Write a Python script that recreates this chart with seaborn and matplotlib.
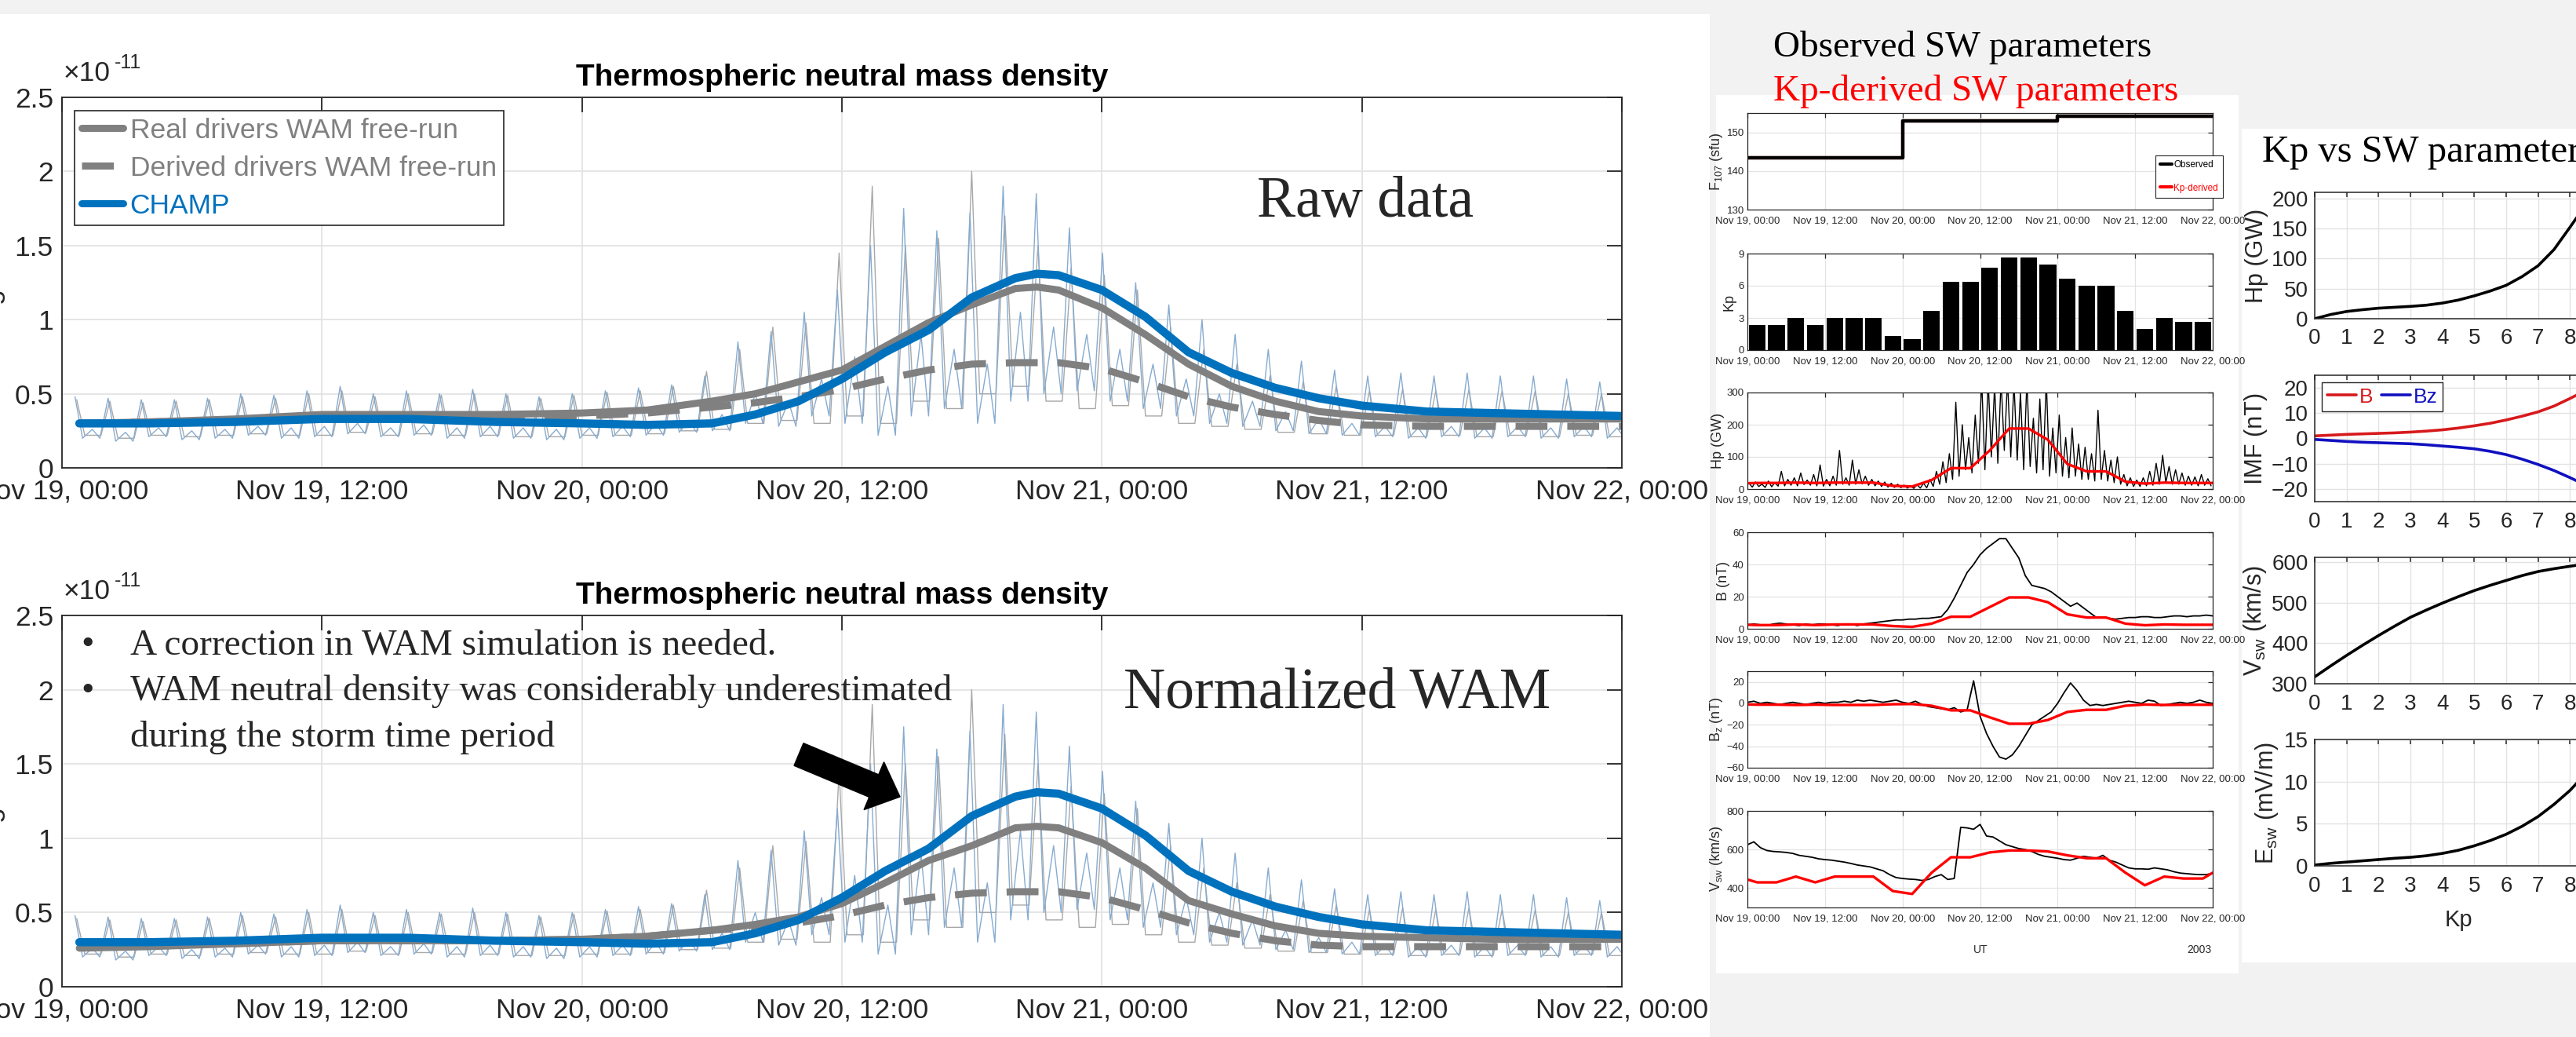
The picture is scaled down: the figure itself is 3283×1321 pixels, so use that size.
import numpy as np
import matplotlib
matplotlib.use("Agg")
import matplotlib.pyplot as plt
import seaborn as sns
from matplotlib.lines import Line2D
from matplotlib.patches import Rectangle, FancyArrow
from matplotlib.transforms import IdentityTransform
from matplotlib import font_manager

# ------------------------------------------------------------------ data
# time axis labels (hours from Nov 19 00:00 UT, 2003)
time_ticks = [0, 12, 24, 36, 48, 60, 72]
time_ticklabels = ["Nov 19, 00:00", "Nov 19, 12:00", "Nov 20, 00:00", "Nov 20, 12:00",
                   "Nov 21, 00:00", "Nov 21, 12:00", "Nov 22, 00:00"]

# smoothed density curves (x1e-11 kg/m^3)
smooth_t = [0.8, 4, 8, 12, 16, 20, 24, 27, 30, 32, 34, 36, 38, 40, 42, 44, 45, 46,
            48, 50, 52, 54, 56, 58, 60, 63, 66, 69, 72]
champ_smooth = [0.30, 0.30, 0.31, 0.33, 0.33, 0.31, 0.30, 0.29, 0.30, 0.36, 0.45, 0.60,
                0.78, 0.93, 1.15, 1.28, 1.31, 1.30, 1.20, 1.02, 0.78, 0.64, 0.54, 0.47,
                0.42, 0.38, 0.37, 0.36, 0.35]
wam_real_raw = [0.30, 0.31, 0.33, 0.36, 0.36, 0.36, 0.37, 0.39, 0.45, 0.50, 0.58, 0.66,
                0.82, 0.98, 1.10, 1.21, 1.22, 1.20, 1.08, 0.90, 0.70, 0.55, 0.45, 0.38,
                0.35, 0.33, 0.33, 0.33, 0.33]
wam_derived_raw = [0.30, 0.31, 0.32, 0.34, 0.35, 0.34, 0.35, 0.37, 0.41, 0.44, 0.48, 0.53,
                   0.60, 0.66, 0.70, 0.71, 0.71, 0.71, 0.67, 0.58, 0.48, 0.41, 0.36, 0.32,
                   0.29, 0.28, 0.28, 0.28, 0.28]
wam_real_norm = [0.26, 0.27, 0.29, 0.31, 0.31, 0.31, 0.32, 0.34, 0.38, 0.42, 0.47, 0.56,
                 0.70, 0.85, 0.95, 1.07, 1.08, 1.07, 0.97, 0.80, 0.58, 0.49, 0.41, 0.36,
                 0.34, 0.33, 0.32, 0.32, 0.32]
wam_derived_norm = [0.27, 0.28, 0.29, 0.31, 0.31, 0.31, 0.32, 0.34, 0.38, 0.40, 0.43, 0.48,
                    0.55, 0.60, 0.63, 0.64, 0.64, 0.64, 0.60, 0.52, 0.43, 0.36, 0.31, 0.28,
                    0.27, 0.27, 0.27, 0.27, 0.27]

# per-orbit maxima / minima of the unsmoothed series (x1e-11 kg/m^3)
champ_orbit_max = [0.48, 0.47, 0.46, 0.46, 0.47, 0.50, 0.49, 0.52, 0.55, 0.50, 0.52, 0.50,
                   0.53, 0.50, 0.48, 0.50, 0.52, 0.54, 0.56, 0.62, 0.85, 0.92, 1.05, 1.20,
                   1.50, 1.75, 1.60, 1.72, 1.90, 1.85, 1.62, 1.45, 1.25, 1.10, 1.00, 0.90,
                   0.80, 0.72, 0.66, 0.62, 0.64, 0.62, 0.64, 0.62, 0.62, 0.60, 0.58]
champ_orbit_min = [0.20, 0.18, 0.21, 0.19, 0.20, 0.22, 0.20, 0.21, 0.23, 0.21, 0.22, 0.20,
                   0.21, 0.20, 0.19, 0.20, 0.21, 0.22, 0.24, 0.25, 0.30, 0.28, 0.35, 0.30,
                   0.22, 0.35, 0.40, 0.30, 0.45, 0.50, 0.52, 0.45, 0.40, 0.35, 0.30, 0.28,
                   0.25, 0.23, 0.22, 0.21, 0.20, 0.21, 0.20, 0.21, 0.20, 0.21, 0.20]
champ_orbit_mid = [0.26, 0.24, 0.27, 0.25, 0.26, 0.28, 0.27, 0.28, 0.30, 0.27, 0.29, 0.27,
                   0.28, 0.27, 0.26, 0.27, 0.28, 0.30, 0.32, 0.36, 0.50, 0.45, 0.60, 0.75,
                   0.55, 0.90, 0.80, 0.70, 1.05, 0.95, 0.90, 0.80, 0.70, 0.60, 0.50, 0.45,
                   0.38, 0.33, 0.30, 0.28, 0.27, 0.28, 0.27, 0.28, 0.27, 0.28, 0.27]
wam_orbit_max = [0.46, 0.45, 0.44, 0.45, 0.46, 0.48, 0.47, 0.50, 0.52, 0.48, 0.50, 0.49,
                 0.50, 0.49, 0.47, 0.49, 0.51, 0.52, 0.55, 0.65, 0.80, 0.95, 0.98, 1.45,
                 1.90, 1.50, 1.55, 2.00, 1.70, 1.50, 1.35, 1.30, 1.20, 0.95, 0.80, 0.70,
                 0.62, 0.58, 0.55, 0.52, 0.53, 0.52, 0.53, 0.52, 0.52, 0.50, 0.50]
wam_orbit_min = [0.22, 0.20, 0.22, 0.21, 0.22, 0.23, 0.22, 0.22, 0.24, 0.22, 0.23, 0.22,
                 0.22, 0.21, 0.21, 0.22, 0.22, 0.23, 0.25, 0.26, 0.30, 0.32, 0.30, 0.35,
                 0.30, 0.45, 0.40, 0.50, 0.55, 0.45, 0.40, 0.42, 0.35, 0.30, 0.28, 0.26,
                 0.24, 0.23, 0.22, 0.22, 0.21, 0.22, 0.21, 0.22, 0.21, 0.22, 0.21]

# solar wind / geomagnetic drivers
f107_t = [0, 24, 48, 72]
f107_obs = [143.4, 152.9, 154.1, 154.1]
kp_t = [1.5, 4.5, 7.5, 10.5, 13.5, 16.5, 19.5, 22.5, 25.5, 28.5, 31.5, 34.5,
        37.5, 40.5, 43.5, 46.5, 49.5, 52.5, 55.5, 58.5, 61.5, 64.5, 67.5, 70.5]
kp_vals = [2.33, 2.33, 3, 2.33, 3, 3, 3, 1.33, 1, 3.67, 6.33, 6.33,
           7.67, 8.67, 8.67, 8, 6.67, 6, 6, 3.67, 2, 3, 2.67, 2.67]

hour_t = list(range(73))
hp_obs_hi = [18, 22, 15, 25, 20, 55, 30, 35, 50, 28, 45, 75,
             30, 40, 120, 35, 90, 60, 40, 30, 25, 22, 18, 15,
             12, 10, 14, 18, 30, 55, 85, 110, 270, 200, 160, 230,
             340, 340, 320, 340, 340, 330, 300, 340, 220, 280, 340, 190,
             230, 160, 190, 140, 130, 110, 245, 120, 90, 100, 45, 35,
             28, 35, 55, 80, 105, 70, 60, 50, 40, 38, 45, 32]
hp_obs_lo = [6, 8, 5, 7, 9, 10, 12, 10, 14, 12, 10, 9,
             10, 12, 15, 12, 15, 16, 12, 10, 8, 6, 5, 4,
             3, 2, 3, 4, 8, 15, 20, 30, 40, 60, 50, 80,
             60, 100, 80, 120, 100, 90, 60, 70, 50, 60, 40, 50,
             40, 35, 40, 30, 30, 25, 30, 25, 20, 15, 10, 8,
             8, 10, 12, 15, 20, 15, 15, 12, 12, 10, 12, 10]
b_obs = [2.5, 3, 2.5, 2, 3, 3.5, 3, 2.5, 2, 3, 2.5, 3, 3, 2.5, 2, 3, 3, 2, 3, 3.5, 4, 4.5, 5, 5.5,
         5.5, 6, 6, 6.5, 6.5, 7, 7.5, 12, 19, 27, 35, 40, 46, 50, 53, 56, 56, 50, 44, 33, 27, 26, 25, 23,
         20, 17, 14, 16, 13, 10, 7, 7, 6.5, 6, 6.5, 7, 7, 7.5, 7.5, 7, 7, 7.5, 8, 8, 7.5, 8, 8, 8.5, 8]
bz_obs = [1, 2, 0, 1, 0, -1, 0, 1, 0, -1, 0, 1, 0, 1, 1, 2, 1, 3, 2, 3, 2, 1, 2, 3,
          1, 0, 2, -1, -3, -4, -5, -6, -4, -8, -6, 21, -12, -28, -40, -50, -52, -48, -40, -30, -20, -16, -12, -8,
          0, 10, 19, 12, 3, -2, -1, -2, -1, 0, 1, 2, 1, 0, 3, 2, -2, -1, 0, 1, 0, 1, 3, 1, 0]
vsw_obs = [625, 640, 610, 595, 590, 588, 585, 580, 570, 565, 560, 552, 548, 545, 540, 535, 528, 520,
           515, 510, 500, 490, 470, 455,
           450, 447, 445, 440, 445, 460, 470, 445, 450, 715, 712, 705, 730, 670, 665, 645, 625, 615,
           605, 600, 590, 575, 565, 560,
           555, 548, 545, 555, 565, 560, 555, 570, 545, 535, 520, 505, 500, 500, 498, 505, 500, 495,
           485, 478, 475, 472, 470, 470, 478]

kpd_t = [0] + kp_t + [72]
hp_kpd = [18, 19, 19, 20, 19, 20, 20, 20, 10, 8, 28, 65, 65, 120, 188, 188, 153, 78, 55, 55, 23,
          17, 20, 19, 19, 19]
b_kpd = [2.5, 2.3, 2.3, 2.7, 2.3, 2.7, 2.7, 2.7, 1.7, 1.2, 3.2, 7.5, 7.5, 13.5, 19.5, 19.5, 16.5,
         9, 7, 7, 3.2, 2.2, 2.7, 2.5, 2.5, 2.5]
bz_kpd = [-1.0, -1.2, -1.2, -1.5, -1.2, -1.5, -1.5, -1.5, -0.8, -0.6, -2.2, -6.5, -6.5, -13, -19,
          -19, -15.5, -8, -6, -6, -2.2, -1.1, -1.5, -1.3, -1.3, -1.3]
vsw_kpd = [445, 430, 430, 460, 430, 460, 460, 460, 385, 370, 480, 560, 560, 585, 595, 595, 590,
           570, 555, 555, 480, 415, 460, 450, 450, 480]

# Kp -> solar wind parameter relations
kp_grid = [0, 0.5, 1, 1.5, 2, 2.5, 3, 3.5, 4, 4.5, 5, 5.5, 6, 6.5, 7, 7.5, 8, 8.5, 9]
hp_curve = [0, 7, 12, 15, 17.5, 19, 20.5, 22.5, 26, 31, 38, 46, 55.5, 70, 88, 115, 152, 190, 230]
b_curve = [1.0, 1.3, 1.6, 1.8, 2.0, 2.2, 2.5, 2.9, 3.4, 4.1, 5.0, 6.0, 7.3, 8.8, 10.5, 12.8, 15.8,
           19.0, 22.5]
bz_curve = [-0.4, -0.8, -1.2, -1.5, -1.7, -1.9, -2.1, -2.5, -3.0, -3.5, -4.1, -5.1, -6.4, -8.2,
            -10.3, -12.7, -15.5, -18.5, -22]
vsw_curve = [317, 344, 370, 395, 419, 442, 464, 482, 499, 515, 530, 543, 555, 567, 577, 584, 590,
             596, 600]
esw_curve = [0.1, 0.3, 0.45, 0.6, 0.75, 0.9, 1.02, 1.2, 1.48, 1.85, 2.38, 3.0, 3.75, 4.7, 5.85,
             7.3, 8.95, 11.0, 13.3]

# ------------------------------------------------------------------ style
W, H = 3283, 1321
sns.set_theme(style="white")
avail = {f.name for f in font_manager.fontManager.ttflist}
SANS = "Liberation Sans" if "Liberation Sans" in avail else "DejaVu Sans"
NARROW = "Liberation Sans Narrow" if "Liberation Sans Narrow" in avail else SANS
SERIF = "Liberation Serif" if "Liberation Serif" in avail else "DejaVu Serif"
plt.rcParams["font.family"] = [SANS, "DejaVu Sans"]
plt.rcParams["mathtext.fontset"] = "custom"
plt.rcParams["mathtext.rm"] = SANS
plt.rcParams["mathtext.it"] = SANS
plt.rcParams["mathtext.bf"] = SANS + ":bold"

TXT = "#262626"
BLUE = "#0072BD"
GRAY = "#808080"


def rect(l, t, r, b):
    return [l / W, 1 - b / H, (r - l) / W, (b - t) / H]


def style(ax, fs, ticklen, spw, pad, family=None, gridlw=1.0):
    ax.set_facecolor("white")
    ax.tick_params(direction="in", top=True, right=True, length=ticklen, width=spw,
                   labelsize=fs, colors=TXT, pad=pad)
    for sp in ax.spines.values():
        sp.set_color(TXT)
        sp.set_linewidth(spw)
        sp.set_visible(True)
    ax.grid(True, color="#e3e3e3", linewidth=gridlw)
    ax.set_axisbelow(True)
    if family:
        for lb in ax.get_xticklabels() + ax.get_yticklabels():
            lb.set_fontfamily(family)


fig = plt.figure(figsize=(W / 100, H / 100), dpi=100, facecolor="#f2f2f2")
for (l, t, r, b) in [(0, 18, 2179, H), (2187, 121, 2853, 1240), (2857, 164, W, 1226)]:
    fig.add_artist(Rectangle((l / W, 1 - b / H), (r - l) / W, (b - t) / H,
                             transform=fig.transFigure, facecolor="white",
                             edgecolor="none", zorder=-5))

# ------------------------------------------------------------------ left panels
# one sample set per satellite orbit (~1.53 h): peak, trough, mid-trough
orbit_t = 0.6 + 1.53 * np.arange(len(champ_orbit_max))
champ_t = np.column_stack([orbit_t, orbit_t + 0.35, orbit_t + 0.8, orbit_t + 1.15]).ravel()
champ_raw = np.column_stack([champ_orbit_max, champ_orbit_min, champ_orbit_mid,
                             champ_orbit_min]).ravel()
wam_t = np.column_stack([orbit_t + 0.08, orbit_t + 0.45, orbit_t + 1.2]).ravel()
wam_raw = np.column_stack([wam_orbit_max, wam_orbit_min, wam_orbit_min]).ravel()

left_specs = [
    (124, 596, wam_real_raw, wam_derived_raw),
    (784, 1257, wam_real_norm, wam_derived_norm),
]
left_axes = []
for top, bot, real, derived in left_specs:
    ax = fig.add_axes(rect(79, top, 2067, bot))
    sns.lineplot(x=wam_t, y=wam_raw, ax=ax, color="#a8a8a8", lw=1.0)
    sns.lineplot(x=champ_t, y=champ_raw, ax=ax, color="#86abd0", lw=1.0)
    sns.lineplot(x=smooth_t, y=derived, ax=ax, color=GRAY, lw=6.5)
    ax.lines[-1].set_dashes([4.5, 2.8])
    sns.lineplot(x=smooth_t, y=real, ax=ax, color=GRAY, lw=6.5)
    sns.lineplot(x=smooth_t, y=champ_smooth, ax=ax, color=BLUE, lw=7.5)
    ax.set_xlim(0, 72)
    ax.set_ylim(0, 2.5)
    ax.set_xticks(time_ticks)
    ax.set_xticklabels(time_ticklabels)
    ax.set_yticks([0, 0.5, 1, 1.5, 2, 2.5])
    ax.set_yticklabels(["0", "0.5", "1", "1.5", "2", "2.5"])
    style(ax, 25.5, 14, 1.3, 8, gridlw=1.3)
    ax.tick_params(axis="x", pad=10)
    ax.set_title("Thermospheric neutral mass density", fontsize=28, fontweight="bold",
                 color="black", pad=11)
    ax.set_ylabel("kg/m$^3$", fontsize=25.5, color=TXT)
    ax.yaxis.set_label_coords(-0.034, 0.5)
    ax.set_xlabel("")
    # exponent
    fig.text(81 / W, 1 - (top - 21) / H, "\u00d710", fontsize=25.5, color=TXT, va="baseline")
    fig.text(146 / W, 1 - (top - 37) / H, "-11", fontsize=18, color=TXT, va="baseline")
    left_axes.append(ax)

axL1, axL2 = left_axes
handles = [Line2D([], [], color=GRAY, lw=6.5),
           Line2D([], [], color=GRAY, lw=6.5, dashes=[4.5, 2.8]),
           Line2D([], [], color=BLUE, lw=6.5)]
leg = axL1.legend(handles, ["Real drivers WAM free-run", "Derived drivers WAM free-run", "CHAMP"],
                  loc="upper left", bbox_to_anchor=(0.008, 0.964), fontsize=25.5,
                  handlelength=1.5, handletextpad=0.25, labelspacing=0.42, borderpad=0.25,
                  borderaxespad=0, frameon=True, fancybox=False, framealpha=1)
leg.get_frame().set_edgecolor(TXT)
leg.get_frame().set_linewidth(1.2)
for txt, c in zip(leg.get_texts(), [GRAY, GRAY, BLUE]):
    txt.set_color(c)

fig.text(1602 / W, 1 - 276 / H, "Raw data", fontsize=53, family=SERIF, va="baseline")
fig.text(1432 / W, 1 - 902 / H, "Normalized WAM", fontsize=53, family=SERIF, va="baseline")
bullets = [("\u2022", "A correction in WAM simulation is needed.", 833),
           ("\u2022", "WAM neutral density was considerably underestimated", 892),
           ("", "during the storm time period", 951)]
for bch, line, yb in bullets:
    if bch:
        fig.text(112 / W, 1 - yb / H, bch, fontsize=34, family=SERIF, va="baseline", ha="center")
    fig.text(166 / W, 1 - yb / H, line, fontsize=34, family=SERIF, va="baseline")
fig.add_artist(FancyArrow(1018, H - 961, 129, -54, width=31, head_width=66, head_length=36,
                          length_includes_head=True, color="black",
                          transform=IdentityTransform(), zorder=10))

# ------------------------------------------------------------------ middle panels
fig.text(2260 / W, 1 - 72 / H, "Observed SW parameters", fontsize=34, family=SERIF,
         va="baseline", color="black")
fig.text(2260 / W, 1 - 128 / H, "Kp-derived SW parameters", fontsize=34, family=SERIF,
         va="baseline", color="#ff0000")

mid_tops = [144, 323, 500, 678, 855, 1033]
mid_axes = [fig.add_axes(rect(2227, t, 2820, t + 123)) for t in mid_tops]
axF, axK, axH, axB, axZ, axV = mid_axes

sns.lineplot(x=f107_t, y=f107_obs, ax=axF, color="#ff0000", lw=3, drawstyle="steps-post")
sns.lineplot(x=f107_t, y=f107_obs, ax=axF, color="black", lw=3.2, drawstyle="steps-post")
axF.set_ylim(130, 155)
axF.set_yticks([130, 140, 150])

sns.barplot(x=kp_t, y=kp_vals, ax=axK, native_scale=True, color="black", width=0.86,
            saturation=1, errorbar=None, edgecolor="none")
axK.set_ylim(0, 9)
axK.set_yticks([0, 3, 6, 9])

hp_t = np.column_stack([np.arange(72) + 0.25, np.arange(72) + 0.75]).ravel()
hp_obs = np.column_stack([hp_obs_hi, hp_obs_lo]).ravel()
sns.lineplot(x=hp_t, y=hp_obs, ax=axH, color="black", lw=1.0)
sns.lineplot(x=kpd_t, y=hp_kpd, ax=axH, color="#ff0000", lw=2.4)
axH.set_ylim(0, 300)
axH.set_yticks([0, 100, 200, 300])

sns.lineplot(x=hour_t, y=b_obs, ax=axB, color="black", lw=1.3)
sns.lineplot(x=kpd_t, y=b_kpd, ax=axB, color="#ff0000", lw=2.4)
axB.set_ylim(0, 60)
axB.set_yticks([0, 20, 40, 60])

sns.lineplot(x=hour_t, y=bz_obs, ax=axZ, color="black", lw=1.3)
sns.lineplot(x=kpd_t, y=bz_kpd, ax=axZ, color="#ff0000", lw=2.4)
axZ.set_ylim(-60, 30)
axZ.set_yticks([-60, -40, -20, 0, 20])

sns.lineplot(x=hour_t, y=vsw_obs, ax=axV, color="black", lw=1.3)
sns.lineplot(x=kpd_t, y=vsw_kpd, ax=axV, color="#ff0000", lw=2.4)
axV.set_ylim(300, 800)
axV.set_yticks([400, 600, 800])

mid_ylabels = ["F$_{107}$ (sfu)", "Kp", "Hp (GW)", "B (nT)", "B$_z$ (nT)", "V$_{sw}$ (km/s)"]
for ax, yl in zip(mid_axes, mid_ylabels):
    ax.set_xlim(0, 72)
    ax.set_xticks(time_ticks)
    ax.set_xticklabels(time_ticklabels)
    style(ax, 9.5, 4, 0.9, 3, family=NARROW, gridlw=0.9)
    ax.tick_params(axis="x", pad=6)
    ax.set_xlabel("")
    ax.set_ylabel(yl, fontsize=13, color=TXT, family=NARROW, labelpad=2)

legF = axF.legend([Line2D([], [], color="black", lw=3), Line2D([], [], color="#ff0000", lw=3)],
                  ["Observed", "Kp-derived"], loc="upper left", bbox_to_anchor=(0.877, 0.561),
                  borderaxespad=0, handlelength=1.3, handletextpad=0.15,
                  labelspacing=1.5, borderpad=0.5, fancybox=False, framealpha=1,
                  prop={"family": NARROW, "size": 8.5})
legF.get_frame().set_edgecolor(TXT)
legF.get_frame().set_linewidth(0.8)
for txt, c in zip(legF.get_texts(), ["black", "#ff0000"]):
    txt.set_color(c)

fig.text(2524 / W, 1 - 1210 / H, "UT", fontsize=10, family=NARROW, color=TXT,
         ha="center", va="center")
fig.text(2803 / W, 1 - 1210 / H, "2003", fontsize=10, family=NARROW, color=TXT,
         ha="center", va="center")

# ------------------------------------------------------------------ right panels
fig.text(2883 / W, 1 - 206 / H, "Kp vs SW parameters", fontsize=35, family=SERIF,
         va="baseline", color="black")
right_tops = [245, 478, 710, 942]
right_axes = [fig.add_axes(rect(2950, t, 3316, t + 161)) for t in right_tops]
axRH, axRI, axRV, axRE = right_axes

sns.lineplot(x=kp_grid, y=hp_curve, ax=axRH, color="black", lw=2.6)
axRH.set_ylim(0, 210)
axRH.set_yticks([0, 50, 100, 150, 200])

sns.lineplot(x=kp_grid, y=b_curve, ax=axRI, color="#d7191c", lw=2.6)
sns.lineplot(x=kp_grid, y=bz_curve, ax=axRI, color="#1010c0", lw=2.6)
axRI.set_ylim(-25, 25)
axRI.set_yticks([-20, -10, 0, 10, 20])

sns.lineplot(x=kp_grid, y=vsw_curve, ax=axRV, color="black", lw=2.6)
axRV.set_ylim(300, 612)
axRV.set_yticks([300, 400, 500, 600])

sns.lineplot(x=kp_grid, y=esw_curve, ax=axRE, color="black", lw=2.6)
axRE.set_ylim(0, 15)
axRE.set_yticks([0, 5, 10, 15])

right_ylabels = ["Hp (GW)", "IMF (nT)", "V$_{sw}$ (km/s)", "E$_{sw}$ (mV/m)"]
for ax, yl in zip(right_axes, right_ylabels):
    ax.set_xlim(0, 9)
    ax.set_xticks(range(10))
    style(ax, 20, 4.5, 1.1, 6, family=NARROW, gridlw=1.0)
    ax.tick_params(axis="x", pad=9)
    ax.set_xlabel("")
    ax.set_ylabel(yl, fontsize=22, color=TXT, family=NARROW, labelpad=3)

axRE.set_xlabel("Kp", fontsize=21, color=TXT, family=NARROW)
axRE.xaxis.set_label_coords(0.5, -0.34)

legI = axRI.legend([Line2D([], [], color="#d7191c", lw=2.6), Line2D([], [], color="#1010c0", lw=2.6)],
                   ["B", "Bz"], loc="upper left", bbox_to_anchor=(0.025, 0.944), ncol=2,
                   borderaxespad=0, handlelength=1.4, handletextpad=0.15, columnspacing=0.4,
                   borderpad=0.25, fancybox=False, framealpha=1,
                   prop={"family": NARROW, "size": 19})
legI.get_frame().set_edgecolor(TXT)
legI.get_frame().set_linewidth(1.0)
for txt, c in zip(legI.get_texts(), ["#d7191c", "#1010c0"]):
    txt.set_color(c)

fig.savefig("out.png", dpi=100, facecolor=fig.get_facecolor())
